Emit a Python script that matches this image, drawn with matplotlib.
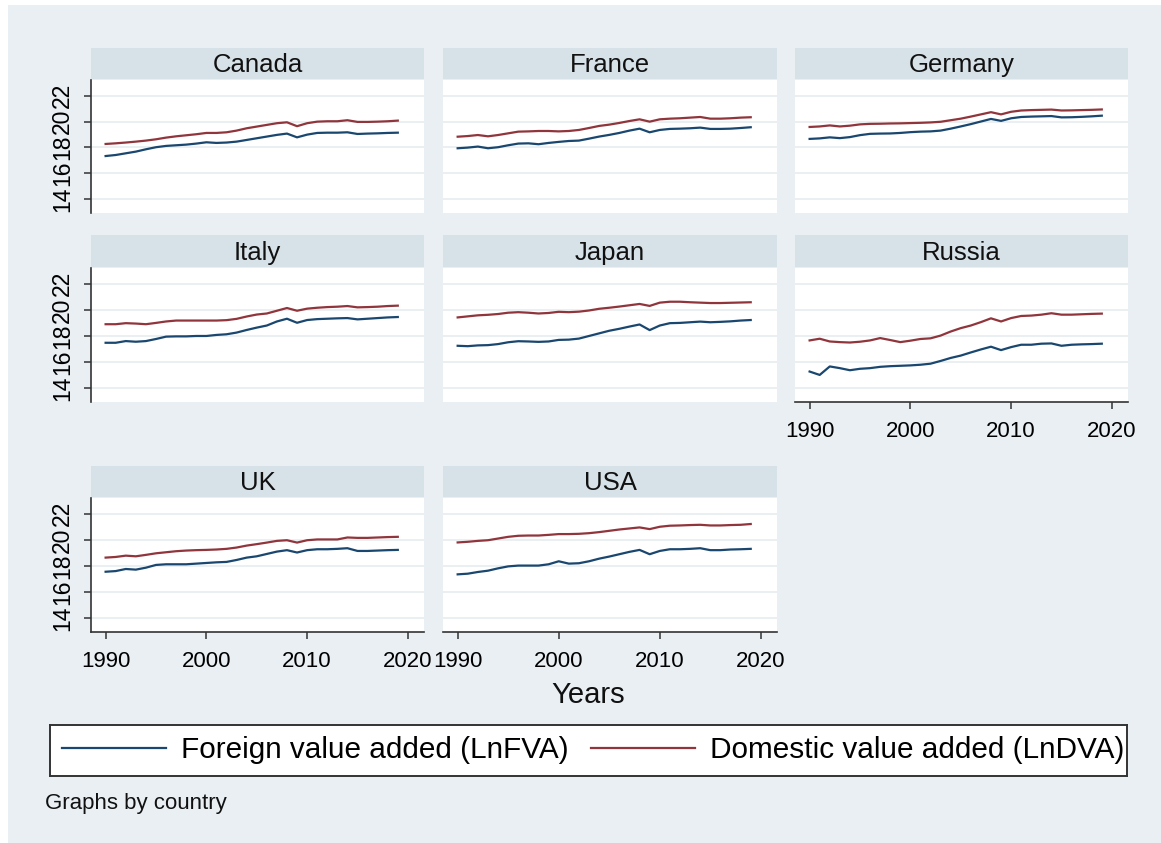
import matplotlib
matplotlib.use("Agg")
import matplotlib.pyplot as plt

plt.rcParams['font.family'] = ['Liberation Sans', 'DejaVu Sans']

years = list(range(1990, 2020))
countries = ["Canada", "France", "Germany", "Italy", "Japan", "Russia", "UK", "USA"]

fva_canada = [17.34, 17.42, 17.55, 17.68, 17.86, 18.02, 18.12, 18.17, 18.22, 18.30,
              18.40, 18.35, 18.38, 18.45, 18.58, 18.71, 18.84, 18.97, 19.07, 18.78,
              18.99, 19.12, 19.14, 19.14, 19.17, 19.04, 19.07, 19.09, 19.12, 19.14]
dva_canada = [18.27, 18.32, 18.38, 18.45, 18.53, 18.63, 18.76, 18.86, 18.94, 19.02,
              19.12, 19.12, 19.17, 19.30, 19.48, 19.61, 19.74, 19.87, 19.94, 19.64,
              19.87, 19.99, 20.02, 20.02, 20.10, 19.97, 19.97, 19.99, 20.02, 20.07]

fva_france = [17.94, 17.99, 18.07, 17.94, 18.02, 18.17, 18.30, 18.32, 18.25, 18.35,
              18.43, 18.50, 18.53, 18.68, 18.84, 18.97, 19.12, 19.30, 19.45, 19.17,
              19.35, 19.43, 19.45, 19.48, 19.53, 19.43, 19.43, 19.45, 19.50, 19.56]
dva_france = [18.83, 18.88, 18.96, 18.86, 18.96, 19.09, 19.22, 19.24, 19.27, 19.27,
              19.24, 19.27, 19.35, 19.50, 19.66, 19.76, 19.89, 20.04, 20.17, 19.99,
              20.17, 20.22, 20.25, 20.30, 20.35, 20.22, 20.22, 20.25, 20.30, 20.33]

fva_germany = [18.66, 18.70, 18.78, 18.72, 18.80, 18.95, 19.05, 19.07, 19.08, 19.12,
               19.18, 19.22, 19.24, 19.30, 19.45, 19.62, 19.80, 20.00, 20.20, 20.05,
               20.25, 20.35, 20.38, 20.40, 20.42, 20.32, 20.33, 20.36, 20.40, 20.45]
dva_germany = [19.58, 19.62, 19.70, 19.62, 19.68, 19.78, 19.82, 19.83, 19.85, 19.86,
               19.88, 19.90, 19.93, 19.98, 20.10, 20.22, 20.38, 20.55, 20.72, 20.55,
               20.75, 20.85, 20.88, 20.90, 20.92, 20.85, 20.86, 20.88, 20.90, 20.93]

fva_italy = [17.48, 17.48, 17.61, 17.56, 17.61, 17.77, 17.95, 17.97, 17.97, 18.00,
             18.00, 18.08, 18.13, 18.26, 18.46, 18.64, 18.80, 19.11, 19.32, 19.01,
             19.22, 19.29, 19.32, 19.35, 19.37, 19.27, 19.32, 19.37, 19.42, 19.45]
dva_italy = [18.90, 18.90, 18.98, 18.95, 18.90, 19.00, 19.11, 19.18, 19.18, 19.18,
             19.18, 19.18, 19.21, 19.31, 19.49, 19.64, 19.72, 19.93, 20.14, 19.93,
             20.09, 20.16, 20.21, 20.24, 20.29, 20.19, 20.21, 20.24, 20.29, 20.32]

fva_japan = [17.25, 17.22, 17.28, 17.30, 17.38, 17.52, 17.60, 17.58, 17.55, 17.58,
             17.70, 17.72, 17.80, 18.00, 18.20, 18.40, 18.55, 18.72, 18.88, 18.45,
             18.80, 18.98, 19.00, 19.05, 19.10, 19.05, 19.08, 19.12, 19.18, 19.22]
dva_japan = [19.42, 19.50, 19.58, 19.62, 19.68, 19.78, 19.82, 19.78, 19.72, 19.76,
             19.85, 19.82, 19.86, 19.95, 20.08, 20.16, 20.25, 20.35, 20.45, 20.30,
             20.55, 20.62, 20.62, 20.58, 20.55, 20.52, 20.52, 20.54, 20.56, 20.58]

fva_russia = [15.28, 15.02, 15.67, 15.54, 15.38, 15.49, 15.54, 15.64, 15.69, 15.72,
              15.75, 15.80, 15.88, 16.09, 16.32, 16.50, 16.74, 16.97, 17.18, 16.92,
              17.15, 17.33, 17.33, 17.41, 17.43, 17.25, 17.33, 17.36, 17.38, 17.41]
dva_russia = [17.66, 17.79, 17.58, 17.53, 17.50, 17.56, 17.66, 17.84, 17.69, 17.53,
              17.64, 17.77, 17.82, 18.03, 18.34, 18.60, 18.80, 19.06, 19.35, 19.11,
              19.37, 19.53, 19.56, 19.63, 19.74, 19.63, 19.63, 19.66, 19.69, 19.71]

fva_uk = [17.56, 17.61, 17.77, 17.72, 17.87, 18.08, 18.13, 18.13, 18.13, 18.18,
          18.23, 18.28, 18.31, 18.46, 18.64, 18.74, 18.92, 19.10, 19.21, 19.03,
          19.21, 19.28, 19.28, 19.31, 19.36, 19.15, 19.15, 19.18, 19.21, 19.23]
dva_uk = [18.64, 18.69, 18.79, 18.74, 18.85, 18.97, 19.05, 19.13, 19.18, 19.21,
          19.23, 19.26, 19.31, 19.41, 19.56, 19.67, 19.79, 19.92, 19.97, 19.79,
          19.97, 20.03, 20.03, 20.03, 20.18, 20.15, 20.15, 20.18, 20.21, 20.23]

fva_usa = [17.36, 17.41, 17.54, 17.64, 17.82, 17.97, 18.03, 18.03, 18.03, 18.13,
           18.36, 18.18, 18.21, 18.36, 18.56, 18.72, 18.90, 19.08, 19.23, 18.90,
           19.15, 19.28, 19.28, 19.31, 19.36, 19.21, 19.21, 19.26, 19.28, 19.31]
dva_usa = [19.80, 19.85, 19.92, 19.97, 20.10, 20.23, 20.31, 20.33, 20.33, 20.38,
           20.44, 20.44, 20.46, 20.51, 20.59, 20.69, 20.79, 20.87, 20.95, 20.82,
           21.00, 21.08, 21.10, 21.13, 21.15, 21.10, 21.10, 21.13, 21.15, 21.21]

fva = [fva_canada, fva_france, fva_germany, fva_italy, fva_japan, fva_russia, fva_uk, fva_usa]
dva = [dva_canada, dva_france, dva_germany, dva_italy, dva_japan, dva_russia, dva_uk, dva_usa]

yticks = [14, 16, 18, 20, 22]
xticks = [1990, 2000, 2010, 2020]
legend_labels = ["Foreign value added (LnFVA)", "Domestic value added (LnDVA)"]

BLUE = "#1a476f"
RED = "#90353b"
BG = "#e9eff3"
STRIP = "#d7e2e8"
GRID = "#e6edf0"
AX = "#333333"

W, H = 1161, 843
fig = plt.figure(figsize=(W / 100, H / 100), dpi=100)
fig.patch.set_facecolor("white")
fig.add_artist(plt.Rectangle((8 / W, 0), 1 - 8 / W, 1 - 5 / H, transform=fig.transFigure,
                             facecolor=BG, edgecolor="none", zorder=-10))

cols = [(91, 424), (443, 777), (795, 1128)]
rows = [(48, 80, 213), (235, 268, 402), (466, 498, 632)]

def rect(x0, x1, y0, y1):
    return [x0 / W, 1 - y1 / H, (x1 - x0) / W, (y1 - y0) / H]

line_handles = None
for i, name in enumerate(countries):
    r, c = divmod(i, 3)
    x0, x1 = cols[c]
    s0, p0, p1 = rows[r]
    sax = fig.add_axes(rect(x0, x1, s0, p0 - 1))
    sax.set_facecolor(STRIP)
    sax.set_xticks([]); sax.set_yticks([])
    for sp in sax.spines.values():
        sp.set_visible(False)
    sax.text(0.5, 0.45, name, ha="center", va="center", fontsize=18.5, color="#111111",
             transform=sax.transAxes)

    ax = fig.add_axes(rect(x0, x1, p0, p1))
    ax.set_facecolor("white")
    hb, = ax.plot(years, fva[i], color=BLUE, lw=1.6)
    hr, = ax.plot(years, dva[i], color=RED, lw=1.6)
    line_handles = [hb, hr]
    ax.set_xlim(1988.55, 2021.6)
    ax.set_ylim(12.95, 23.2)
    ax.set_yticks(yticks)
    ax.set_xticks(xticks)
    ax.grid(axis="y", color=GRID, lw=1.2)
    ax.set_axisbelow(True)
    for sp in ["top", "right"]:
        ax.spines[sp].set_visible(False)
    show_y = (c == 0)
    show_x = (r == 2) or (i == 5)
    ax.spines["left"].set_visible(show_y)
    ax.spines["bottom"].set_visible(show_x)
    ax.spines["left"].set_color(AX)
    ax.spines["bottom"].set_color(AX)
    ax.spines["left"].set_linewidth(1.2)
    ax.spines["bottom"].set_linewidth(1.2)
    ax.tick_params(axis="y", left=show_y, labelleft=show_y, length=5, width=1.1,
                   color=AX, labelsize=16.5, pad=7)
    ax.tick_params(axis="x", bottom=show_x, labelbottom=show_x, length=5, width=1.1,
                   color=AX, labelsize=16, pad=9)
    if show_y:
        for lab in ax.get_yticklabels():
            lab.set_rotation(90)
            lab.set_va("center")
            lab.set_ha("right")

fig.text(588 / W, 1 - 695 / H, "Years", ha="center", va="center", fontsize=21, color="#111111")

lax = fig.add_axes(rect(50, 1127, 725, 776))
lax.set_facecolor("white")
lax.set_xticks([]); lax.set_yticks([])
for sp in lax.spines.values():
    sp.set_color(AX)
    sp.set_linewidth(1.4)
lax.legend(line_handles, legend_labels, loc="center left", bbox_to_anchor=(0.0, 0.5),
           ncol=2, frameon=False, fontsize=21.4, handlelength=3.5, handletextpad=0.5,
           columnspacing=0.75, borderpad=0.4, borderaxespad=0.0)

fig.text(45 / W, 1 - 803 / H, "Graphs by country", ha="left", va="center", fontsize=16,
         color="#111111")

fig.savefig("out.png", dpi=100, facecolor=fig.get_facecolor())
